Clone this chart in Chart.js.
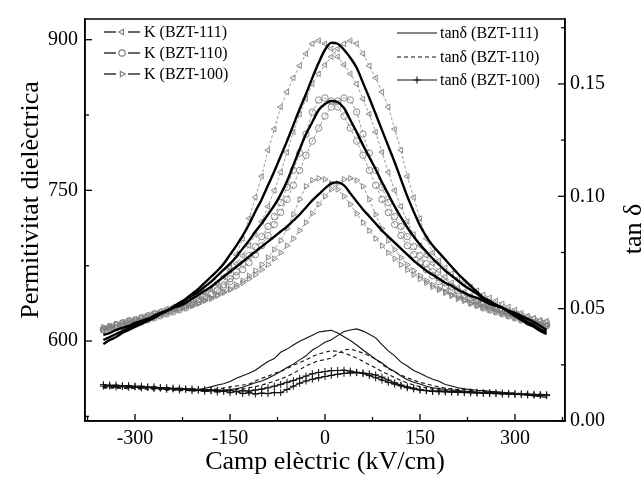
<!DOCTYPE html>
<html>
<head>
<meta charset="utf-8">
<script src="https://cdn.jsdelivr.net/npm/chart.js"></script>
<style>
  html, body { margin: 0; padding: 0; background: #fff; }
  #wrap { width: 644px; height: 482px; }
</style>
</head>
<body>
<div id="wrap"><canvas id="chart" width="644" height="482"></canvas></div>
<script>
// Electric field grid (kV/cm), shared by every curve
const FIELD = [
  -350, -340, -330, -320, -310, -300, -290, -280, -270, -260,
  -250, -240, -230, -220, -210, -200, -190, -180, -170, -160,
  -150, -140, -130, -120, -110, -100, -90, -80, -70, -60,
  -50, -40, -30, -20, -10, 0, 10, 20, 30, 40,
  50, 60, 70, 80, 90, 100, 110, 120, 130, 140,
  150, 160, 170, 180, 190, 200, 210, 220, 230, 240,
  250, 260, 270, 280, 290, 300, 310, 320, 330, 340, 350
];

// Permittivity, solid fitted curves
const K111_FIT = [
  597, 601, 604, 608, 611, 614, 617, 620, 623, 627,
  630, 634, 638, 642, 647, 652, 658, 664, 670, 677,
  686, 695, 705, 716, 729, 741, 755, 769, 784, 799,
  815, 831, 846, 862, 877, 890, 897, 896, 890, 882,
  872, 857, 842, 826, 810, 794, 778, 761, 744, 729,
  715, 704, 695, 688, 681, 674, 667, 661, 655, 649,
  643, 640, 636, 633, 629, 625, 621, 617, 614, 610, 607
];
const K110_FIT = [
  601, 604, 607, 610, 613, 616, 618, 621, 624, 627,
  630, 633, 637, 641, 645, 649, 654, 659, 665, 671,
  677, 684, 692, 700, 709, 717, 726, 735, 746, 759,
  775, 791, 806, 818, 830, 836, 839, 838, 832, 820,
  808, 795, 783, 771, 758, 746, 734, 723, 713, 704,
  696, 689, 682, 676, 670, 665, 660, 655, 651, 647,
  642, 639, 636, 633, 630, 626, 623, 619, 616, 612, 609
];
const K100_FIT = [
  606, 608, 611, 613, 615, 618, 620, 622, 625, 628,
  630, 633, 635, 638, 642, 646, 650, 654, 659, 664,
  669, 674, 679, 684, 689, 694, 699, 704, 709, 714,
  720, 726, 733, 740, 746, 752, 757, 758, 755, 747,
  739, 731, 724, 717, 710, 704, 698, 692, 686, 680,
  675, 670, 666, 662, 658, 655, 651, 648, 645, 643,
  640, 637, 635, 633, 630, 628, 625, 622, 619, 615, 611
];

// Permittivity, measured loops (two sweep branches each)
const K111_A = [
  613, 615, 617, 619, 621, 622, 624, 626, 628, 630,
  632, 634, 636, 638, 641, 644, 648, 652, 657, 664,
  673, 686, 702, 722, 743, 764, 790, 811, 833, 848,
  862, 874, 886, 896, 899, 896, 891, 883, 875, 866,
  856, 841, 826, 808, 788, 768, 750, 734, 719, 706,
  695, 685, 677, 670, 664, 658, 653, 649, 645, 641,
  638, 635, 632, 629, 627, 625, 623, 621, 619, 617, 616
];
const K111_B = [
  611, 612, 614, 616, 617, 619, 621, 623, 625, 627,
  629, 632, 635, 638, 641, 645, 649, 653, 658, 664,
  670, 677, 685, 695, 706, 719, 734, 750, 768, 788,
  808, 826, 841, 856, 866, 875, 883, 891, 896, 899,
  896, 886, 874, 862, 848, 833, 811, 790, 764, 743,
  722, 702, 688, 680, 673, 667, 662, 658, 654, 650,
  646, 643, 640, 637, 634, 631, 628, 625, 623, 621, 620
];
const K110_A = [
  612, 614, 616, 618, 620, 621, 623, 625, 627, 628,
  630, 632, 634, 636, 638, 641, 644, 647, 651, 656,
  662, 669, 677, 685, 694, 704, 714, 724, 738, 753,
  770, 787, 806, 828, 840, 842, 839, 833, 824, 812,
  799, 785, 770, 755, 741, 728, 716, 705, 695, 686,
  678, 671, 665, 659, 654, 650, 646, 642, 639, 636,
  633, 631, 629, 627, 625, 623, 621, 619, 618, 616, 615
];
const K110_B = [
  611, 612, 613, 615, 616, 618, 619, 621, 623, 625,
  627, 629, 631, 633, 636, 639, 642, 646, 650, 654,
  659, 665, 671, 678, 686, 695, 705, 716, 728, 741,
  755, 770, 785, 799, 812, 824, 833, 839, 842, 840,
  828, 806, 787, 770, 753, 738, 724, 714, 704, 694,
  685, 677, 669, 663, 658, 654, 650, 646, 643, 640,
  637, 635, 633, 631, 629, 627, 625, 623, 621, 619, 618
];
const K100_A = [
  614, 615, 617, 618, 620, 621, 623, 624, 626, 627,
  629, 631, 632, 634, 636, 638, 641, 643, 646, 649,
  652, 656, 660, 665, 670, 676, 683, 691, 700, 712,
  726, 741, 754, 760, 762, 761, 757, 751, 744, 736,
  727, 718, 710, 702, 695, 688, 682, 676, 671, 666,
  662, 658, 654, 651, 648, 645, 642, 640, 637, 635,
  633, 631, 629, 627, 625, 623, 621, 619, 618, 616, 615
];
const K100_B = [
  612, 613, 614, 615, 616, 618, 619, 621, 623, 625,
  627, 629, 631, 633, 635, 637, 640, 642, 645, 648,
  651, 654, 658, 662, 666, 671, 676, 682, 688, 695,
  702, 710, 718, 727, 736, 744, 751, 757, 761, 762,
  760, 754, 741, 726, 712, 700, 691, 683, 676, 670,
  665, 660, 656, 652, 649, 646, 643, 641, 638, 636,
  634, 632, 630, 628, 626, 624, 622, 620, 619, 617, 616
];

// tan delta, two sweep branches each
const T111_A = [
  0.0160, 0.0155, 0.0158, 0.0152, 0.0155, 0.0150, 0.0153, 0.0148, 0.0150, 0.0146,
  0.0147, 0.0143, 0.0145, 0.0141, 0.0143, 0.0140, 0.0146, 0.0152, 0.0160, 0.0166,
  0.0176, 0.0190, 0.0201, 0.0213, 0.0226, 0.0246, 0.0265, 0.0278, 0.0306, 0.0320,
  0.0338, 0.0355, 0.0368, 0.0382, 0.0396, 0.0400, 0.0404, 0.0392, 0.0375, 0.0358,
  0.0338, 0.0316, 0.0296, 0.0275, 0.0258, 0.0236, 0.0220, 0.0200, 0.0184, 0.0172,
  0.0165, 0.0155, 0.0148, 0.0144, 0.0140, 0.0138, 0.0136, 0.0133, 0.0131, 0.0128,
  0.0127, 0.0124, 0.0126, 0.0121, 0.0123, 0.0119, 0.0121, 0.0116, 0.0118, 0.0113, 0.0115
];
const T111_B = [
  0.0152, 0.0158, 0.0150, 0.0155, 0.0149, 0.0153, 0.0146, 0.0150, 0.0144, 0.0148,
  0.0141, 0.0145, 0.0139, 0.0143, 0.0137, 0.0140, 0.0136, 0.0139, 0.0135, 0.0138,
  0.0140, 0.0143, 0.0150, 0.0160, 0.0170, 0.0178, 0.0190, 0.0205, 0.0220, 0.0238,
  0.0253, 0.0272, 0.0290, 0.0316, 0.0332, 0.0350, 0.0362, 0.0380, 0.0398, 0.0405,
  0.0410, 0.0400, 0.0386, 0.0370, 0.0340, 0.0312, 0.0290, 0.0262, 0.0245, 0.0225,
  0.0212, 0.0198, 0.0186, 0.0177, 0.0162, 0.0156, 0.0148, 0.0143, 0.0140, 0.0137,
  0.0135, 0.0132, 0.0130, 0.0127, 0.0125, 0.0122, 0.0118, 0.0115, 0.0112, 0.0108, 0.0105
];
const T110_A = [
  0.0150, 0.0146, 0.0151, 0.0145, 0.0149, 0.0143, 0.0147, 0.0141, 0.0145, 0.0139,
  0.0142, 0.0137, 0.0140, 0.0136, 0.0138, 0.0135, 0.0137, 0.0140, 0.0143, 0.0147,
  0.0152, 0.0156, 0.0160, 0.0165, 0.0178, 0.0190, 0.0199, 0.0212, 0.0221, 0.0233,
  0.0248, 0.0260, 0.0272, 0.0287, 0.0298, 0.0306, 0.0313, 0.0310, 0.0302, 0.0292,
  0.0280, 0.0266, 0.0250, 0.0236, 0.0220, 0.0207, 0.0193, 0.0180, 0.0170, 0.0160,
  0.0153, 0.0147, 0.0142, 0.0138, 0.0135, 0.0132, 0.0134, 0.0129, 0.0131, 0.0126,
  0.0128, 0.0123, 0.0125, 0.0120, 0.0122, 0.0117, 0.0119, 0.0114, 0.0116, 0.0111, 0.0113
];
const T110_B = [
  0.0145, 0.0150, 0.0144, 0.0148, 0.0142, 0.0146, 0.0140, 0.0144, 0.0138, 0.0142,
  0.0136, 0.0140, 0.0134, 0.0138, 0.0132, 0.0136, 0.0131, 0.0134, 0.0132, 0.0136,
  0.0135, 0.0140, 0.0142, 0.0148, 0.0153, 0.0160, 0.0168, 0.0177, 0.0187, 0.0198,
  0.0212, 0.0228, 0.0245, 0.0258, 0.0268, 0.0273, 0.0280, 0.0300, 0.0316, 0.0320,
  0.0312, 0.0302, 0.0290, 0.0275, 0.0253, 0.0232, 0.0218, 0.0205, 0.0192, 0.0182,
  0.0172, 0.0165, 0.0158, 0.0152, 0.0146, 0.0143, 0.0139, 0.0141, 0.0135, 0.0137,
  0.0131, 0.0133, 0.0127, 0.0129, 0.0124, 0.0126, 0.0121, 0.0123, 0.0118, 0.0120, 0.0116
];
const T100_A = [
  0.0162, 0.0156, 0.0160, 0.0154, 0.0158, 0.0152, 0.0155, 0.0149, 0.0152, 0.0146,
  0.0149, 0.0143, 0.0146, 0.0140, 0.0143, 0.0137, 0.0140, 0.0135, 0.0138, 0.0133,
  0.0136, 0.0131, 0.0135, 0.0133, 0.0138, 0.0142, 0.0148, 0.0155, 0.0163, 0.0172,
  0.0180, 0.0190, 0.0200, 0.0210, 0.0216, 0.0220, 0.0224, 0.0225, 0.0226, 0.0222,
  0.0217, 0.0212, 0.0202, 0.0192, 0.0182, 0.0172, 0.0164, 0.0156, 0.0148, 0.0143,
  0.0138, 0.0135, 0.0131, 0.0134, 0.0129, 0.0132, 0.0127, 0.0130, 0.0125, 0.0128,
  0.0123, 0.0126, 0.0121, 0.0124, 0.0119, 0.0122, 0.0117, 0.0120, 0.0115, 0.0118, 0.0113
];
const T100_B = [
  0.0155, 0.0160, 0.0152, 0.0157, 0.0150, 0.0155, 0.0147, 0.0152, 0.0144, 0.0149,
  0.0141, 0.0146, 0.0138, 0.0143, 0.0135, 0.0140, 0.0132, 0.0137, 0.0129, 0.0134,
  0.0126, 0.0131, 0.0122, 0.0126, 0.0120, 0.0124, 0.0122, 0.0127, 0.0126, 0.0140,
  0.0155, 0.0168, 0.0178, 0.0186, 0.0192, 0.0198, 0.0203, 0.0208, 0.0212, 0.0214,
  0.0215, 0.0213, 0.0210, 0.0205, 0.0195, 0.0182, 0.0170, 0.0160, 0.0152, 0.0146,
  0.0140, 0.0136, 0.0133, 0.0130, 0.0133, 0.0128, 0.0131, 0.0126, 0.0129, 0.0124,
  0.0127, 0.0122, 0.0125, 0.0120, 0.0123, 0.0118, 0.0121, 0.0116, 0.0119, 0.0114, 0.0117
];

// Axis ticks
const X_TICKS = [-300, -150, 0, 150, 300];
const X_MINOR = [-375, -225, -75, 75, 225, 375];
const K_TICKS = [600, 750, 900];
const K_MINOR = [525, 675, 825];
const TAN_TICKS = [0, 0.05, 0.10, 0.15];
const TAN_MINOR = [0.025, 0.075, 0.125, 0.175];

const FONT = '"Liberation Serif", "Times New Roman", serif';
const GREY = '#808080';

function pts(arr) {
  return FIELD.map((x, i) => ({ x, y: arr[i] }));
}

function loop(label, arr, style, rot) {
  return {
    label, data: pts(arr), yAxisID: 'y', order: 3,
    borderColor: GREY, borderWidth: 0.8, borderDash: [3, 2], tension: 0,
    pointStyle: style, pointRotation: rot, pointRadius: 3.2,
    pointBorderColor: GREY, pointBackgroundColor: 'rgba(255,255,255,0)', pointBorderWidth: 0.9
  };
}

function fit(label, arr) {
  return {
    label, data: pts(arr), yAxisID: 'y', order: 1,
    borderColor: '#000', borderWidth: 2.4, cubicInterpolationMode: 'monotone', pointRadius: 0
  };
}

function loss(label, arr, dash, cross) {
  return {
    label, data: pts(arr), yAxisID: 'y2', order: 2,
    borderColor: '#111', borderWidth: 1.1, borderDash: dash, tension: 0,
    pointStyle: 'cross', pointRadius: cross ? 3.5 : 0,
    pointBorderColor: '#111', pointBorderWidth: 1
  };
}

const datasets = [
  loop('K (BZT-111) a', K111_A, 'triangle', -90),
  loop('K (BZT-111) b', K111_B, 'triangle', -90),
  loop('K (BZT-110) a', K110_A, 'circle', 0),
  loop('K (BZT-110) b', K110_B, 'circle', 0),
  loop('K (BZT-100) a', K100_A, 'triangle', 90),
  loop('K (BZT-100) b', K100_B, 'triangle', 90),
  fit('fit BZT-111', K111_FIT),
  fit('fit BZT-110', K110_FIT),
  fit('fit BZT-100', K100_FIT),
  loss('tanδ (BZT-111) a', T111_A, [], false),
  loss('tanδ (BZT-111) b', T111_B, [], false),
  loss('tanδ (BZT-110) a', T110_A, [4, 3], false),
  loss('tanδ (BZT-110) b', T110_B, [4, 3], false),
  loss('tanδ (BZT-100) a', T100_A, [], true),
  loss('tanδ (BZT-100) b', T100_B, [], true)
];

function marker(ctx, style, rot, x, y, r) {
  if (Chart.helpers && Chart.helpers.drawPoint) {
    Chart.helpers.drawPoint(ctx, { pointStyle: style, rotation: rot, radius: r, borderWidth: 1 }, x, y);
  }
}

// frame, inward ticks, legends and side titles
const decor = {
  id: 'decor',
  afterDraw(chart) {
    const { ctx, chartArea: a, scales } = chart;
    ctx.save();
    ctx.strokeStyle = '#000';
    ctx.lineWidth = 1.5;
    ctx.strokeRect(a.left, a.top, a.right - a.left, a.bottom - a.top);

    const line = (x1, y1, x2, y2) => { ctx.beginPath(); ctx.moveTo(x1, y1); ctx.lineTo(x2, y2); ctx.stroke(); };
    ctx.lineWidth = 1.3;
    X_TICKS.forEach(v => { const x = scales.x.getPixelForValue(v); line(x, a.bottom, x, a.bottom - 7); });
    X_MINOR.forEach(v => { const x = scales.x.getPixelForValue(v); line(x, a.bottom, x, a.bottom - 4); });
    K_TICKS.forEach(v => { const y = scales.y.getPixelForValue(v); line(a.left, y, a.left + 7, y); });
    K_MINOR.forEach(v => { const y = scales.y.getPixelForValue(v); line(a.left, y, a.left + 4, y); });
    TAN_TICKS.forEach(v => { const y = scales.y2.getPixelForValue(v); line(a.right, y, a.right - 7, y); });
    TAN_MINOR.forEach(v => { const y = scales.y2.getPixelForValue(v); line(a.right, y, a.right - 4, y); });

    // left legend
    ctx.font = '16px ' + FONT;
    ctx.textBaseline = 'middle';
    ctx.textAlign = 'left';
    const leftItems = [
      { text: 'K (BZT-111)', style: 'triangle', rot: -90, y: 32 },
      { text: 'K (BZT-110)', style: 'circle', rot: 0, y: 53 },
      { text: 'K (BZT-100)', style: 'triangle', rot: 90, y: 74 }
    ];
    leftItems.forEach(it => {
      ctx.strokeStyle = '#000';
      ctx.lineWidth = 1.2;
      ctx.setLineDash([]);
      line(104, it.y, 116, it.y);
      line(128, it.y, 140, it.y);
      ctx.strokeStyle = GREY;
      ctx.fillStyle = '#fff';
      marker(ctx, it.style, it.rot, 122, it.y, 3.2);
      ctx.fillStyle = '#000';
      ctx.fillText(it.text, 144, it.y + 1);
    });

    // right legend
    const rightItems = [
      { text: 'tanδ (BZT-111)', dash: [], cross: false, y: 33 },
      { text: 'tanδ (BZT-110)', dash: [4, 3], cross: false, y: 57 },
      { text: 'tanδ (BZT-100)', dash: [], cross: true, y: 80 }
    ];
    rightItems.forEach(it => {
      ctx.strokeStyle = '#111';
      ctx.lineWidth = 1.1;
      ctx.setLineDash(it.dash);
      line(397, it.y, 437, it.y);
      ctx.setLineDash([]);
      if (it.cross) marker(ctx, 'cross', 0, 417, it.y, 3.5);
      ctx.fillStyle = '#000';
      ctx.fillText(it.text, 440, it.y + 1);
    });

    // vertical titles
    ctx.font = '26px ' + FONT;
    ctx.textAlign = 'center';
    ctx.textBaseline = 'middle';
    ctx.save();
    ctx.translate(31, 200);
    ctx.rotate(-Math.PI / 2);
    ctx.fillText('Permitivitat dielèctrica', 0, 0);
    ctx.restore();
    ctx.save();
    ctx.translate(634, 229);
    ctx.rotate(-Math.PI / 2);
    ctx.fillText('tan δ', 0, 0);
    ctx.restore();
    ctx.restore();
  }
};

const tickFont = { family: FONT, size: 20 };

new Chart(document.getElementById('chart'), {
  type: 'line',
  data: { datasets },
  options: {
    responsive: false,
    devicePixelRatio: 1,
    animation: false,
    events: [],
    layout: { padding: { top: 4, left: 0, right: 0, bottom: 0 } },
    plugins: { legend: { display: false }, tooltip: { enabled: false } },
    scales: {
      x: {
        type: 'linear', position: 'bottom', min: -379, max: 379,
        afterBuildTicks: s => { s.ticks = X_TICKS.map(v => ({ value: v })); },
        afterFit: s => { s.height = 61; },
        grid: { display: false, drawTicks: false },
        border: { display: true, color: '#000', width: 1.5 },
        ticks: { color: '#000', font: tickFont, padding: 6, maxRotation: 0, autoSkip: false, callback: v => String(v) },
        title: { display: true, text: 'Camp elèctric (kV/cm)', color: '#000', font: { family: FONT, size: 26 }, padding: { top: 0, bottom: 4 } }
      },
      y: {
        type: 'linear', position: 'left', min: 520.4, max: 920.6,
        afterBuildTicks: s => { s.ticks = K_TICKS.map(v => ({ value: v })); },
        afterFit: s => { s.width = 85; },
        grid: { display: false, drawTicks: false },
        border: { display: true, color: '#000', width: 1.5 },
        ticks: { color: '#000', font: tickFont, padding: 7, callback: v => String(v) }
      },
      y2: {
        type: 'linear', position: 'right', min: 0, max: 0.1789,
        afterBuildTicks: s => { s.ticks = TAN_TICKS.map(v => ({ value: v })); },
        afterFit: s => { s.width = 79; },
        grid: { display: false, drawTicks: false },
        border: { display: true, color: '#000', width: 1.5 },
        ticks: { color: '#000', font: tickFont, padding: 5, callback: v => v.toFixed(2) }
      }
    }
  },
  plugins: [decor]
});
</script>
</body>
</html>
